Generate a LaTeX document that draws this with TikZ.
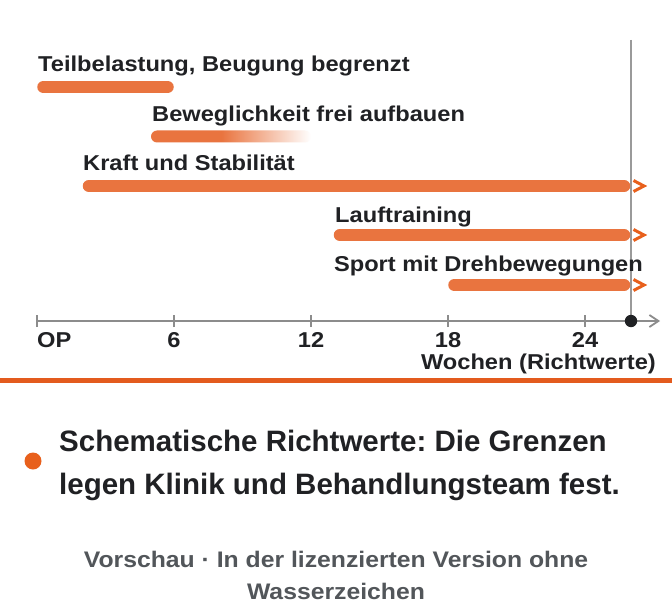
\documentclass[tikz,border=0pt]{standalone}
\usepackage{fontspec}
\setmainfont{Liberation Sans}[FakeStretch=1.1]
\newfontfamily\notefont{Liberation Sans}
\frenchspacing
\usetikzlibrary{arrows.meta}
\definecolor{barorange}{HTML}{E9743F}
\definecolor{lineorange}{HTML}{E35B1E}
\definecolor{dotorange}{HTML}{E8601C}
\definecolor{txt}{HTML}{202124}
\definecolor{axgrey}{HTML}{8C8C8C}
\definecolor{vgrey}{HTML}{9A9A9A}
\definecolor{notegrey}{HTML}{52565A}
\pgfdeclarehorizontalshading{fadebar}{100bp}{color(0bp)=(barorange); color(25bp)=(barorange); color(47bp)=(barorange); color(75bp)=(white); color(100bp)=(white)}
\begin{document}
\frenchspacing
\begin{tikzpicture}[x=1bp,y=-1bp,
  lbl/.style={inner sep=0, font=\fontsize{21.5bp}{26bp}\selectfont\bfseries, text=txt},
  bar/.style={line width=12.5bp, line cap=round, draw=barorange},
  chev/.style={draw=dotorange, line width=3bp, line cap=butt, line join=miter},
  tick/.style={draw=axgrey, line width=1.6bp},
  bigtxt/.style={inner sep=0, font=\notefont\fontsize{29.5bp}{34bp}\selectfont\bfseries, text=txt},
  note/.style={inner sep=0, font=\fontsize{22.5bp}{27bp}\selectfont\bfseries, text=notegrey}
]
\useasboundingbox (0,0) rectangle (672,616);
\fill[white] (0,0) rectangle (672,616);

% vertical marker line
\coordinate (vtop) at (631,40);
\coordinate (now) at (631,321);
\draw[vgrey, line width=1.3bp] (vtop) -- (now);

% bars
\coordinate (b1s) at (43.5,87);  \coordinate (b1e) at (167.5,87);
\coordinate (b3s) at (89,186);   \coordinate (b3e) at (624,186);
\coordinate (b4s) at (340,235);  \coordinate (b4e) at (624,235);
\coordinate (b5s) at (454.5,285);\coordinate (b5e) at (624,285);
\draw[bar] (b1s) -- (b1e);
\draw[bar] (b3s) -- (b3e);
\draw[bar] (b4s) -- (b4e);
\draw[bar] (b5s) -- (b5e);
\coordinate (b2s) at (151,130.5); \coordinate (b2e) at (311,142.5);
\shade[shading=fadebar, rounded corners=6bp] (b2s) rectangle (b2e);

% continuation chevrons
\foreach \yy/\nm in {186/c3,235/c4,285/c5}{
  \coordinate (\nm) at (633.5,\yy);
  \draw[chev] ([yshift=-5.5bp]\nm) -- ([xshift=10.5bp]\nm) -- ([yshift=5.5bp]\nm);
}

% labels
\node[lbl, anchor=base west] (l1) at (38,72) {Teilbelastung, Beugung begrenzt};
\node[lbl, anchor=base west] (l2) at (152,122) {Beweglichkeit frei aufbauen};
\node[lbl, anchor=base west] (l3) at (83,171) {Kraft und Stabilität};
\node[lbl, anchor=base west] (l4) at (335,222) {Lauftraining};
\node[lbl, anchor=base east] (l5) at (643,271) {Sport mit Drehbewegungen};

% axis
\coordinate (ax0) at (37,321);
\coordinate (axend) at (660,321);
\draw[axgrey, line width=1.8bp, -{Straight Barb[length=9bp,width=12bp,line width=1.8bp]}] (ax0) -- (axend);
\foreach \xx/\nm in {37/t0,174/t6,311/t12,448/t18,585/t24}{
  \coordinate (\nm) at (\xx,321);
  \draw[tick] ([yshift=-6bp]\nm) -- ([yshift=6bp]\nm);
}
\fill[txt] (now) circle (6.2bp);

\node[lbl, anchor=base west] (k0) at (37,347.5) {OP};
\node[lbl, anchor=base] (k6) at (174,347.5) {6};
\node[lbl, anchor=base] (k12) at (311,347.5) {12};
\node[lbl, anchor=base] (k18) at (448,347.5) {18};
\node[lbl, anchor=base] (k24) at (585,347.5) {24};
\node[lbl, anchor=base east] (wk) at (656,369) {Wochen (Richtwerte)};

% separator
\coordinate (sepL) at (0,380.5);
\coordinate (sepR) at (672,380.5);
\draw[lineorange, line width=4.5bp] (sepL) -- (sepR);

% note
\fill[dotorange] (33,461) circle (8.5bp);
\node[bigtxt, anchor=base west] (n1) at (59,451.5) {Schematische Richtwerte: Die Grenzen};
\node[bigtxt, anchor=base west] (n2) at (59,494.5) {legen Klinik und Behandlungsteam fest.};

% footer
\node[note, anchor=base] (f1) at (336,567) {Vorschau · In der lizenzierten Version ohne};
\node[note, anchor=base] (f2) at (336,599) {Wasserzeichen};
\end{tikzpicture}
\end{document}
